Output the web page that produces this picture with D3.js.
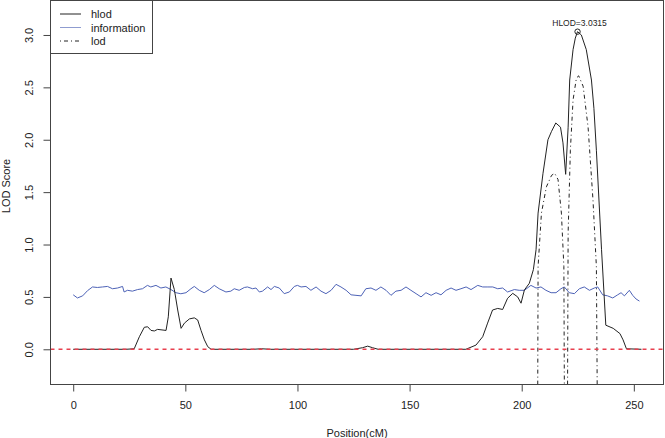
<!DOCTYPE html>
<html>
<head>
<meta charset="utf-8">
<script src="https://cdn.jsdelivr.net/npm/d3@7"></script>
<style>
  body { margin: 0; background: #fff; }
  svg { display: block; font-family: "Liberation Sans", Arial, Helvetica, sans-serif; }
</style>
</head>
<body>
<script>
// hlod scan, position in cM and score
const hlodPos = [0, 23.5, 27.2, 29.5, 31.7, 33.2, 34.7, 36.2, 37.6, 41.4, 42.4, 43.6, 45.1, 46.6, 48.1,
  49.6, 51.8, 54.0, 55.5, 57.0, 58.5, 60.0, 61.5, 80, 84, 88, 125, 129, 131.3, 133.5, 136, 175.1,
  179.6, 182.6, 184.8, 187.0, 189.3, 191.5, 193.7, 196.0, 198.2, 199.7, 201.2, 203.4, 205.2, 206.4,
  207.3, 209.5, 211.7, 213.3, 215.2, 217.3, 218.4, 219.6, 220.7, 221.4, 222.9, 223.9, 224.9, 226.6,
  228.8, 231.1, 232.2, 233.3, 235.6, 237.5, 240.8, 243.8, 245.2, 246.7, 253.4];
const hlodVal = [0, 0, 0.005, 0.12, 0.21, 0.215, 0.18, 0.175, 0.19, 0.18, 0.31, 0.68, 0.57, 0.375, 0.2,
  0.25, 0.29, 0.30, 0.28, 0.18, 0.09, 0.025, 0, 0, 0.005, 0, 0, 0.015, 0.03, 0.015, 0, 0,
  0.04, 0.12, 0.25, 0.375, 0.39, 0.38, 0.487, 0.534, 0.50, 0.44, 0.566, 0.63, 0.76, 0.95,
  1.30, 1.68, 2.0, 2.08, 2.16, 2.12, 1.97, 1.67, 2.12, 2.57, 2.86, 2.97, 3.0315, 3.0,
  2.86, 2.57, 2.3, 1.90, 0.95, 0.23, 0.20, 0.15, 0.09, 0.005, 0];

// information content
const infoPos = [0, 1.9, 4.2, 6.4, 8.6, 10.8, 13.1, 15.3, 17.5, 19.8, 22.0, 22.7, 24.2, 26.4, 28.7,
  30.9, 33.1, 34.6, 36.9, 39.1, 41.3, 43.6, 45.8, 48.0, 50.3, 52.5, 54.0, 56.2, 58.4, 60.7, 62.9,
  65.1, 68.1, 70.3, 71.8, 74.0, 76.3, 77.7, 80.0, 81.5, 83.0, 84.4, 86.7, 88.2, 89.7, 91.9, 94.1,
  96.4, 98.6, 100.0, 101.6, 103.8, 106.0, 108.3, 110.5, 112.7, 115.0, 117.2, 119.4, 121.7, 123.9,
  126.1, 128.4, 130.5, 132.8, 135.0, 137.2, 139.5, 141.7, 143.9, 146.2, 148.4, 150.6, 152.9, 155.1,
  157.3, 159.6, 161.8, 164.0, 166.3, 168.5, 170.7, 172.9, 175.2, 177.4, 180.4, 182.6, 184.9, 187.1,
  189.3, 191.5, 193.7, 196.7, 198.9, 201.2, 204.1, 206.4, 208.6, 210.8, 213.1, 215.3, 217.5, 219.0,
  221.2, 223.5, 225.7, 227.9, 230.2, 232.4, 233.9, 236.1, 238.3, 240.6, 242.8, 244.3, 245.8, 248.0,
  249.5, 251.0, 252.5];
const infoVal = [0.52, 0.49, 0.51, 0.56, 0.595, 0.59, 0.595, 0.60, 0.578, 0.585, 0.60, 0.547, 0.563, 0.555, 0.57,
  0.578, 0.61, 0.595, 0.61, 0.585, 0.595, 0.57, 0.54, 0.53, 0.54, 0.578, 0.60, 0.563, 0.54, 0.57, 0.61,
  0.578, 0.547, 0.555, 0.578, 0.563, 0.59, 0.595, 0.578, 0.585, 0.547, 0.555, 0.595, 0.57, 0.60, 0.585, 0.531,
  0.547, 0.60, 0.61, 0.595, 0.60, 0.563, 0.595, 0.555, 0.531, 0.563, 0.62, 0.595, 0.563, 0.52,
  0.515, 0.51, 0.578, 0.585, 0.563, 0.595, 0.563, 0.515, 0.555, 0.563, 0.595, 0.563, 0.531, 0.50,
  0.54, 0.515, 0.54, 0.52, 0.563, 0.585, 0.563, 0.578, 0.595, 0.57, 0.61, 0.595, 0.595, 0.595,
  0.578, 0.585, 0.547, 0.57, 0.563, 0.563, 0.61, 0.585, 0.595, 0.563, 0.54, 0.54, 0.578, 0.595,
  0.54, 0.531, 0.578, 0.595, 0.563, 0.585, 0.595, 0.52, 0.51, 0.49, 0.52, 0.54, 0.51, 0.563,
  0.515, 0.48, 0.46];

// lod, two pieces that drop off the bottom of the plot (null = gap)
const lodPos = [206.8, 207.3, 208.8, 211.0, 213.3, 214.7, 216.2, 217.7, 218.8, 219.5, null,
  220.0, 220.7, 221.7, 222.9, 224.4, 225.4, 227.4, 229.6, 231.8, 233.3, 234.5];
const lodVal = [-3, 0.79, 1.30, 1.55, 1.66, 1.68, 1.62, 1.30, 0.79, -3, null,
  -3, 1.11, 1.90, 2.38, 2.59, 2.61, 2.51, 2.12, 1.42, 0.79, -3];

const xTicks = [0, 50, 100, 150, 200, 250];
const yTicks = [0, 0.5, 1, 1.5, 2, 2.5, 3];
const legendNames = ['hlod', 'information', 'lod'];
const peakPos = 224.9;
const peakVal = 3.0315;

// frame dimensions
const FRAME_WIDTH = 665;
const FRAME_HEIGHT = 438;
const BOX = {left: 50.5, right: 663.5, top: 0.5, bottom: 384.5};

const svg = d3.select('body')
  .append('svg')
    .attr('width', FRAME_WIDTH)
    .attr('height', FRAME_HEIGHT);

const xscale = d3.scaleLinear()
  .domain([-10.13, 263.23])
  .range([BOX.left, BOX.right]);
const yscale = d3.scaleLinear()
  .domain([-0.336, 3.329])
  .range([BOX.bottom, BOX.top]);

svg.append('clipPath')
    .attr('id', 'plotclip')
  .append('rect')
    .attr('x', BOX.left)
    .attr('y', BOX.top)
    .attr('width', BOX.right - BOX.left)
    .attr('height', BOX.bottom - BOX.top);

const plot = svg.append('g').attr('clip-path', 'url(#plotclip)');

const toPts = (xs, ys) => xs.map((p, i) => [p, ys[i]]);
const line = d3.line()
  .defined((d) => d[0] !== null && d[1] !== null)
  .x((d) => xscale(d[0]))
  .y((d) => yscale(d[1]));

plot.append('path')
  .datum(toPts(infoPos, infoVal))
  .attr('d', line)
  .attr('fill', 'none')
  .attr('stroke', '#4d62b6')
  .attr('stroke-width', 1);

plot.append('path')
  .datum(toPts(lodPos, lodVal))
  .attr('d', line)
  .attr('fill', 'none')
  .attr('stroke', '#222')
  .attr('stroke-width', 1)
  .attr('stroke-dasharray', '1,3,4,3');

plot.append('path')
  .datum(toPts(hlodPos, hlodVal))
  .attr('d', line)
  .attr('fill', 'none')
  .attr('stroke', '#222')
  .attr('stroke-width', 1);

// zero reference line, drawn on top of the curves
plot.append('line')
  .attr('x1', BOX.left).attr('x2', BOX.right)
  .attr('y1', yscale(0)).attr('y2', yscale(0))
  .attr('stroke', '#e8404f')
  .attr('stroke-width', 1.5)
  .attr('stroke-dasharray', '4,4');

// peak marker
svg.append('circle')
  .attr('cx', xscale(peakPos))
  .attr('cy', yscale(peakVal))
  .attr('r', 2.7)
  .attr('fill', 'none')
  .attr('stroke', '#222');
svg.append('text')
  .attr('x', xscale(peakPos) + 2)
  .attr('y', yscale(peakVal) - 6)
  .attr('text-anchor', 'middle')
  .attr('font-size', '8.5px')
  .attr('fill', '#222')
  .text('HLOD=' + peakVal);

// axes
const xAxis = svg.append('g')
  .attr('transform', 'translate(0,' + BOX.bottom + ')')
  .call(d3.axisBottom(xscale).tickValues(xTicks).tickSize(7).tickPadding(10));
const yAxis = svg.append('g')
  .attr('transform', 'translate(' + BOX.left + ',0)')
  .call(d3.axisLeft(yscale).tickValues(yTicks).tickSize(7).tickFormat(d3.format('.1f')));

[xAxis, yAxis].forEach((ax) => {
  ax.select('.domain').remove();
  ax.selectAll('.tick line').attr('stroke', '#444');
  ax.selectAll('.tick text').attr('font-size', '11px').attr('fill', '#222')
    .attr('font-family', '"Liberation Sans", Arial, sans-serif');
});
yAxis.selectAll('.tick text')
  .attr('transform', 'rotate(-90)')
  .attr('x', 0)
  .attr('y', -17.2)
  .attr('dy', 0)
  .attr('text-anchor', 'middle');

// plot box
svg.append('rect')
  .attr('x', BOX.left).attr('y', BOX.top)
  .attr('width', BOX.right - BOX.left)
  .attr('height', BOX.bottom - BOX.top)
  .attr('fill', 'none')
  .attr('stroke', '#444');

// axis titles
svg.append('text')
  .attr('x', (BOX.left + BOX.right) / 2)
  .attr('y', 436.5)
  .attr('text-anchor', 'middle')
  .attr('font-size', '11px')
  .attr('fill', '#222')
  .text('Position(cM)');
svg.append('text')
  .attr('transform', 'translate(9.5,186) rotate(-90)')
  .attr('text-anchor', 'middle')
  .attr('font-size', '11px')
  .attr('fill', '#222')
  .text('LOD Score');

// legend
const legend = svg.append('g');
legend.append('rect')
  .attr('x', BOX.left).attr('y', BOX.top)
  .attr('width', 102).attr('height', 53)
  .attr('fill', '#fff')
  .attr('stroke', '#444');
const legendStroke = ['#222', '#8f9cd0', '#222'];
const legendDash = [null, null, '1,3,4,3'];
legendNames.forEach((name, i) => {
  const ly = 14 + i * 13.5;
  legend.append('line')
    .attr('x1', 60).attr('x2', 81)
    .attr('y1', ly).attr('y2', ly)
    .attr('stroke', legendStroke[i])
    .attr('stroke-dasharray', legendDash[i]);
  legend.append('text')
    .attr('x', 91)
    .attr('y', ly + 4)
    .attr('font-size', '11px')
    .attr('fill', '#222')
    .text(name);
});
</script>
</body>
</html>
